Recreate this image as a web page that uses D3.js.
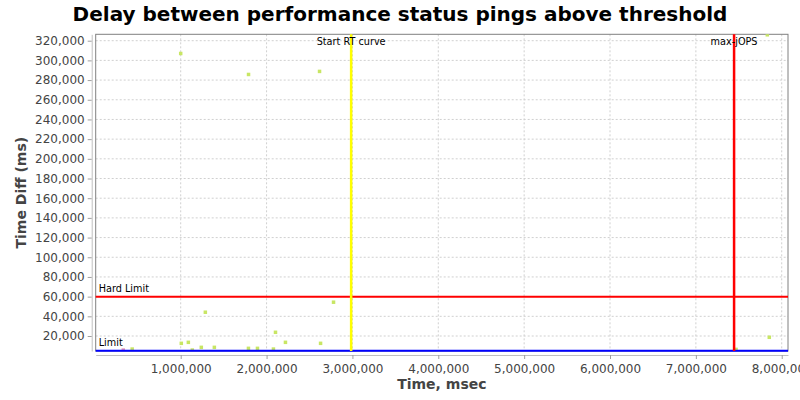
<!DOCTYPE html>
<html><head><meta charset="utf-8">
<script src="https://cdn.jsdelivr.net/npm/d3@7"></script>
<style>body{margin:0;background:#fff}svg{display:block}text{font-family:"DejaVu Sans",sans-serif}</style>
</head><body>
<svg id="c" width="800" height="400"></svg>
<script>
const title = "Delay between performance status pings above threshold";
const xLabel = "Time, msec";
const yLabel = "Time Diff (ms)";
const xDomain = [10000, 8073000];
const yDomain = [4770, 326500];
const xTicks = [1000000,2000000,3000000,4000000,5000000,6000000,7000000,8000000];
const yTicks = [20000,40000,60000,80000,100000,120000,140000,160000,180000,200000,220000,240000,260000,280000,300000,320000];
const pointTimes = [435000,1007000,1089000,1135000,1240000,1287000,1392000,1789000,1894000,2080000,2104000,2220000,2629000,2780000,1000000,1790000,2617000,7832000,7855000,7468000];
const pointDiffs = [6740,12560,13580,5700,8480,44160,8480,7460,7460,6740,23770,13580,12560,54350,307000,285700,288800,326000,18700,6400];
const otherTimes = [331000];
const otherDiffs = [5700];
const hLines = [{name:"Hard Limit", value:60000, color:"#ff0000"},{name:"Limit", value:5000, color:"#0000ff"}];
const vLines = [{name:"Start RT curve", value:2985000, color:"#ffff00"},{name:"max-jOPS", value:7445000, color:"#ff0000"}];

const L=95.7, R=788, T=34.3, B=351;
const svg=d3.select("#c");
const x=d3.scaleLinear().domain(xDomain).range([L,R]);
const y=d3.scaleLinear().domain(yDomain).range([B,T]);
const fmt=d3.format(",");

svg.append("text").attr("x",400).attr("y",21).attr("text-anchor","middle")
  .attr("font-size",20).attr("font-weight","bold").attr("fill","#000").text(title);

// grid
const g=svg.append("g");
g.selectAll(".gx").data(xTicks).enter().append("line")
  .attr("x1",d=>x(d)).attr("x2",d=>x(d)).attr("y1",T).attr("y2",B)
  .attr("stroke","#d0d0d0").attr("stroke-dasharray","2,2").attr("stroke-width",1);
g.selectAll(".gy").data(yTicks).enter().append("line")
  .attr("x1",L).attr("x2",R).attr("y1",d=>y(d)).attr("y2",d=>y(d))
  .attr("stroke","#d0d0d0").attr("stroke-dasharray","2,2").attr("stroke-width",1);

// outline
svg.append("rect").attr("x",L).attr("y",T).attr("width",R-L).attr("height",B-T)
  .attr("fill","none").attr("stroke","#808080").attr("stroke-width",1);

// points
svg.append("clipPath").attr("id","pc").append("rect").attr("x",L).attr("y",T).attr("width",R-L).attr("height",B-T);
const pg=svg.append("g").attr("clip-path","url(#pc)");
pg.selectAll(".p").data(d3.range(pointTimes.length)).enter().append("rect")
  .attr("x",i=>x(pointTimes[i])-1.75).attr("y",i=>y(pointDiffs[i])-1.75)
  .attr("width",3.5).attr("height",3.5).attr("fill","#c8e664");
pg.selectAll(".o").data(d3.range(otherTimes.length)).enter().append("rect")
  .attr("x",i=>x(otherTimes[i])-1.75).attr("y",i=>y(otherDiffs[i])-1.75)
  .attr("width",3.5).attr("height",3.5).attr("fill","#e896b4");

// markers
hLines.forEach(h=>{
  svg.append("line").attr("x1",L).attr("x2",R).attr("y1",y(h.value)).attr("y2",y(h.value))
    .attr("stroke",h.color).attr("stroke-width",2);
  svg.append("text").attr("x",L+3).attr("y",y(h.value)-5).attr("font-size",9.7).attr("fill","#000").text(h.name);
});
vLines.forEach(v=>{
  svg.append("line").attr("x1",x(v.value)).attr("x2",x(v.value)).attr("y1",T).attr("y2",B)
    .attr("stroke",v.color).attr("stroke-width",2.5);
  svg.append("text").attr("x",x(v.value)).attr("y",T+11).attr("text-anchor","middle").attr("font-size",9.7).attr("fill","#000").text(v.name);
});

// axes
const xa=svg.append("g").attr("transform",`translate(0,${B+4})`)
  .call(d3.axisBottom(x).tickValues(xTicks).tickFormat(fmt).tickSize(4).tickSizeOuter(0));
const ya=svg.append("g").attr("transform",`translate(${L-4},0)`)
  .call(d3.axisLeft(y).tickValues(yTicks).tickFormat(fmt).tickSize(4).tickSizeOuter(0));
[xa,ya].forEach(a=>{
  a.select(".domain").attr("stroke","#c0c0c0");
  a.selectAll(".tick line").attr("stroke","#a0a0a0");
  a.selectAll(".tick text").attr("font-size",12).attr("fill","#444").attr("font-family","DejaVu Sans, sans-serif");
});
xa.selectAll(".tick text").attr("dy","0.95em");

svg.append("text").attr("x",(L+R)/2).attr("y",389).attr("text-anchor","middle")
  .attr("font-size",14).attr("font-weight","bold").attr("fill","#444").text(xLabel);
svg.append("text").attr("transform",`translate(26,${(T+B)/2}) rotate(-90)`).attr("text-anchor","middle")
  .attr("font-size",14).attr("font-weight","bold").attr("fill","#444").text(yLabel);
</script>
</body></html>
